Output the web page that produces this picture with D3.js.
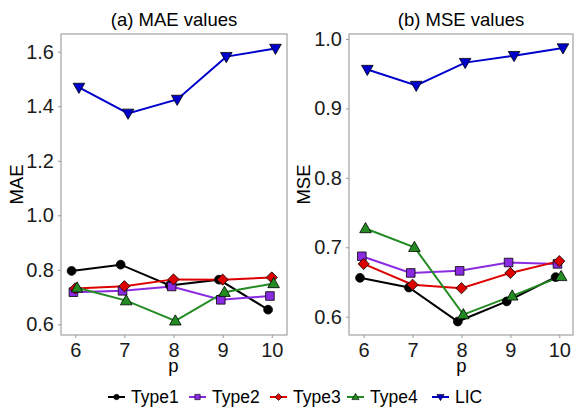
<!DOCTYPE html>
<html><head><meta charset="utf-8">
<script src="https://cdn.jsdelivr.net/npm/d3@7"></script>
<style>body{margin:0;background:#fff}svg{display:block;font-family:"Liberation Sans",Arial,sans-serif}</style>
</head><body>
<svg id="c" width="576" height="409"></svg>
<script>
const pValues = [6, 7, 8, 9, 10];
const seriesNames = ["Type1", "Type2", "Type3", "Type4", "LIC"];
const maeType1 = [0.796, 0.819, 0.743, 0.764, 0.654];
const maeType2 = [0.718, 0.723, 0.739, 0.690, 0.704];
const maeType3 = [0.732, 0.740, 0.765, 0.764, 0.772];
const maeType4 = [0.734, 0.687, 0.613, 0.718, 0.750];
const maeLIC   = [1.469, 1.374, 1.425, 1.582, 1.612];
const mseType1 = [0.656, 0.642, 0.593, 0.622, 0.657];
const mseType2 = [0.687, 0.663, 0.666, 0.678, 0.676];
const mseType3 = [0.676, 0.646, 0.641, 0.663, 0.680];
const mseType4 = [0.727, 0.700, 0.603, 0.630, 0.658];
const mseLIC   = [0.956, 0.933, 0.966, 0.976, 0.987];
const maeTicks = [0.6, 0.8, 1.0, 1.2, 1.4, 1.6];
const mseTicks = [0.6, 0.7, 0.8, 0.9, 1.0];

const colors = {Type1:"#000000", Type2:"#8A2BE2", Type3:"#DD0000", Type4:"#228B22", LIC:"#0000CD"};
const shapes = {Type1:"circle", Type2:"square", Type3:"diamond", Type4:"up", LIC:"down"};
const dodge = {Type1:-0.075, Type2:-0.0375, Type3:0, Type4:0.0375, LIC:0.075};

function shapePath(s, k) {
  switch (s) {
    case "circle": { const r = 4.4*k; return `M${-r},0A${r},${r} 0 1,0 ${r},0A${r},${r} 0 1,0 ${-r},0Z`; }
    case "square": { const h = 4.3*k; return `M${-h},${-h}H${h}V${h}H${-h}Z`; }
    case "diamond": { const h = 5.6*k; return `M0,${-h}L${h},0L0,${h}L${-h},0Z`; }
    case "up": { const w = 5.8*k; return `M0,${-6*k}L${w},${4.2*k}L${-w},${4.2*k}Z`; }
    case "down": { const w = 5.8*k; return `M0,${6*k}L${w},${-4.2*k}L${-w},${-4.2*k}Z`; }
  }
}

const svg = d3.select("#c");
const grey = "#9a9a9a";
const FONT = "'Liberation Sans', Arial, sans-serif";

function panel(opts) {
  const {left, right, top, bottom, xdom, ydom, ticks, data, title, ylab, fmt} = opts;
  const x = d3.scaleLinear().domain(xdom).range([left, right]);
  const y = d3.scaleLinear().domain(ydom).range([bottom, top]);
  const g = svg.append("g");
  const ya = g.append("g").attr("transform", `translate(${left},0)`)
    .call(d3.axisLeft(y).tickValues(ticks).tickFormat(d3.format(fmt)).tickSize(3).tickPadding(4));
  const xa = g.append("g").attr("transform", `translate(0,${bottom})`)
    .call(d3.axisBottom(x).tickValues(pValues).tickFormat(d3.format("d")).tickSize(3).tickPadding(5));
  [ya, xa].forEach(a => {
    a.attr("font-family", FONT);
    a.select(".domain").remove();
    a.selectAll("line").attr("stroke", grey).attr("stroke-width", 1);
    a.selectAll("text").attr("fill", "#1a1a1a").style("font-size", "20px");
  });
  xa.selectAll("text").attr("dy", "0.71em");
  g.append("rect").attr("x", left).attr("y", top).attr("width", right-left).attr("height", bottom-top)
    .attr("fill", "none").attr("stroke", grey).attr("stroke-width", 1.1);
  const line = d3.line().x(d => x(d.p + dodge[d.s])).y(d => y(d.v));
  seriesNames.forEach(s => {
    const pts = pValues.map((p, i) => ({p, v: data[s][i], s}));
    g.append("path").attr("d", line(pts)).attr("fill", "none").attr("stroke", colors[s]).attr("stroke-width", 2);
  });
  seriesNames.forEach(s => {
    pValues.forEach((p, i) => {
      g.append("path").attr("d", shapePath(shapes[s], 1))
        .attr("transform", `translate(${x(p + dodge[s])},${y(data[s][i])})`)
        .attr("fill", colors[s]).attr("stroke", "#000").attr("stroke-width", 0.8);
    });
  });
  g.append("text").attr("x", (left+right)/2).attr("y", 26).attr("text-anchor", "middle")
    .style("font-size", "18.5px").attr("fill", "#000").text(title);
  g.append("text").attr("transform", `translate(${opts.ylabX},${(top+bottom)/2}) rotate(-90)`)
    .attr("text-anchor", "middle").style("font-size", "18.5px").attr("fill", "#000").text(ylab);
  g.append("text").attr("x", x(8)).attr("y", 372).attr("text-anchor", "middle")
    .style("font-size", "18.5px").attr("fill", "#000").text("p");
}

panel({left: 61, right: 287, top: 34, bottom: 335, xdom: [5.71, 10.31], ydom: [0.561, 1.665],
  ticks: maeTicks, fmt: ".1f", title: "(a) MAE values", ylab: "MAE", ylabX: 23,
  data: {Type1: maeType1, Type2: maeType2, Type3: maeType3, Type4: maeType4, LIC: maeLIC}});
panel({left: 349, right: 573, top: 34, bottom: 335, xdom: [5.70, 10.28], ydom: [0.5736, 1.0072],
  ticks: mseTicks, fmt: ".1f", title: "(b) MSE values", ylab: "MSE", ylabX: 310,
  data: {Type1: mseType1, Type2: mseType2, Type3: mseType3, Type4: mseType4, LIC: mseLIC}});

const legX = [108, 189, 270, 347, 432];
const lg = svg.append("g");
seriesNames.forEach((s, i) => {
  const x0 = legX[i], yc = 397;
  lg.append("line").attr("x1", x0).attr("x2", x0+17).attr("y1", yc).attr("y2", yc)
    .attr("stroke", colors[s]).attr("stroke-width", 2);
  lg.append("path").attr("d", shapePath(shapes[s], 0.62)).attr("transform", `translate(${x0+8.5},${yc})`)
    .attr("fill", colors[s]).attr("stroke", "#000").attr("stroke-width", 0.6);
  lg.append("text").attr("x", x0+23).attr("y", yc+6).style("font-size", "17.5px").attr("fill", "#000").text(s);
});
</script>
</body></html>
